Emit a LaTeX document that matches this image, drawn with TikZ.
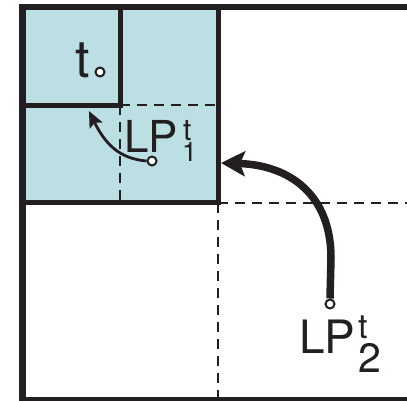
\documentclass[tikz,border=0pt]{standalone}
\usepackage{fontspec}
\setmainfont{TeX Gyre Heros}
\usetikzlibrary{arrows.meta}
\definecolor{ink}{HTML}{231F20}
\definecolor{cellblue}{HTML}{BBDFE3}
\tikzset{
  thickline/.style={draw=ink,line width=5pt},
  outerline/.style={draw=ink,line width=6.5pt},
  dashline/.style={draw=ink,line width=2pt,dash pattern=on 10pt off 7pt},
  lbl/.style={inner sep=0pt,outer sep=0pt,anchor=base west,text=ink},
  pt/.style={circle,draw=ink,fill=white,line width=2pt,minimum size=9pt,inner sep=0pt},
}
\begin{document}
\begin{tikzpicture}[x=1pt,y=-1pt]
\useasboundingbox (0,0) rectangle (407,400);
% blue cell
\fill[cellblue] (22,7) rectangle (218,202);
% dashed subdivisions
\draw[dashline] (120,105) -- (218,105);
\draw[dashline] (120,105) -- (120,202);
\draw[dashline] (218,203) -- (412,203);
\draw[dashline] (218,203) -- (218,402);
% solid borders
\draw[thickline] (22,202) -- (218,202) -- (218,7);
\draw[thickline] (22,105) -- (120,105) -- (120,7);
\draw[outerline] (414,7) -- (22.5,7) -- (22.5,400) -- (414,400);
% labels
\node[lbl,font=\fontsize{52}{52}\selectfont] (t0) at (75,77) {t};
\node[pt] (c0) at (100,72) {};
\node[lbl,font=\fontsize{44}{44}\selectfont] (lp1) at (124,152) {LP};
\node[lbl,font=\fontsize{30}{30}\selectfont] (lp1sup) at (183,140) {t};
\node[lbl,font=\fontsize{27}{27}\selectfont] (lp1sub) at (182,161) {1};
\node[lbl,font=\fontsize{46}{46}\selectfont] (lp2) at (299,353) {LP};
\node[lbl,font=\fontsize{34}{34}\selectfont] (lp2sup) at (358,338) {t};
\node[lbl,font=\fontsize{41}{41}\selectfont] (lp2sub) at (358,372) {2};
\node[pt] (c1) at (152,161) {};
\node[pt] (c2) at (330,304) {};
\coordinate (tip1) at (89,111);
\coordinate (tip2) at (221,163);
% arrows
\draw[draw=ink,line width=2.8pt,-{Stealth[length=16pt,width=14pt,inset=3pt]}]
  (c1.west) .. controls (125,159) and (108,150) .. (tip1);
\draw[draw=ink,line width=7.5pt,-{Stealth[length=24pt,width=25pt,inset=5pt]}]
  (c2.north) -- (331,258) .. controls (331,195) and (290,165) .. (tip2);
\end{tikzpicture}
\end{document}
